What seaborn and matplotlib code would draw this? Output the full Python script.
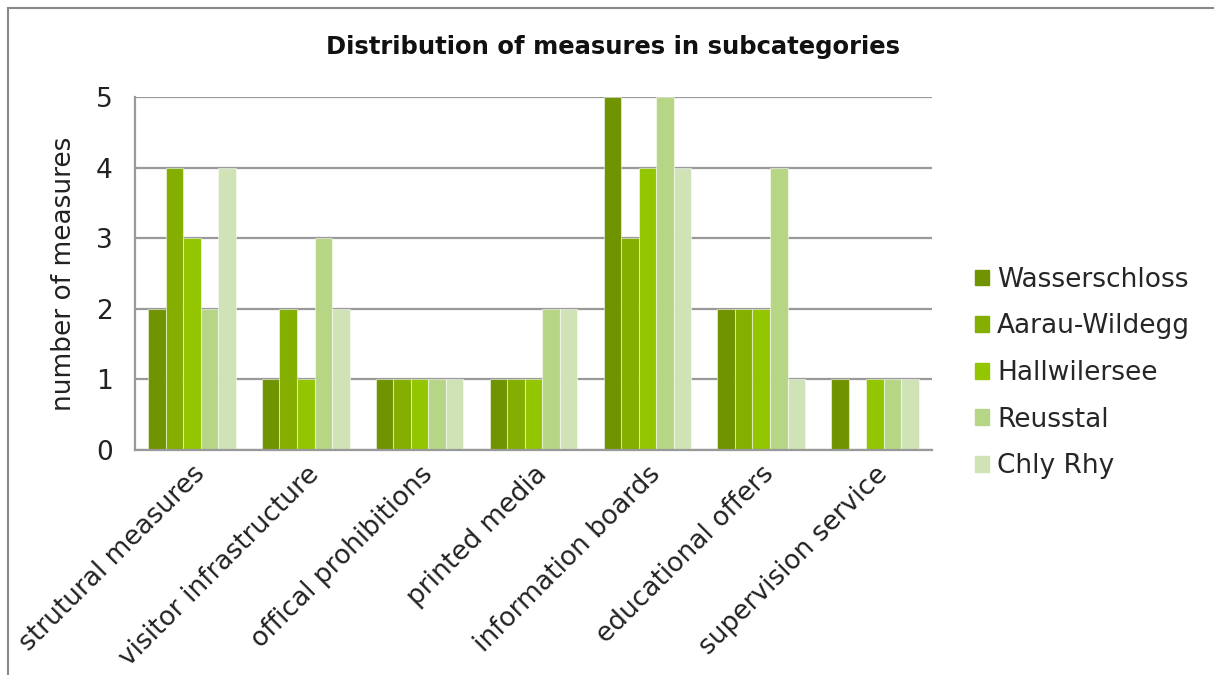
import pandas as pd
import matplotlib.pyplot as plt
import matplotlib.patches as mpatches
import seaborn as sns

categories = ["strutural measures", "visitor infrastructure", "offical prohibitions",
              "printed media", "information boards", "educational offers",
              "supervision service"]
wasserschloss = [2, 1, 1, 1, 5, 2, 1]
aarau_wildegg = [4, 2, 1, 1, 3, 2, 0]
hallwilersee = [3, 1, 1, 1, 4, 2, 1]
reusstal = [2, 3, 1, 2, 5, 4, 1]
chly_rhy = [4, 2, 1, 2, 4, 1, 1]

series = {
    "Wasserschloss": wasserschloss,
    "Aarau-Wildegg": aarau_wildegg,
    "Hallwilersee": hallwilersee,
    "Reusstal": reusstal,
    "Chly Rhy": chly_rhy,
}
colors = ["#709300", "#84AE00", "#93C500", "#B6D686", "#CFE3B6"]

rows = []
for name, vals in series.items():
    for cat, v in zip(categories, vals):
        rows.append({"category": cat, "region": name, "value": v})
df = pd.DataFrame(rows)

sns.set_theme(style="white")
plt.rcParams["font.family"] = ["DejaVu Sans"]

fs = 19

fig = plt.figure(figsize=(12.14, 6.75), dpi=100)
ax = fig.add_axes([135 / 1214, 1 - 450 / 675, (932 - 135) / 1214, (450 - 97) / 675])

sns.barplot(data=df, x="category", y="value", hue="region", palette=colors,
            width=0.77, edgecolor=(1, 1, 1, 0.5), linewidth=0.8,
            saturation=1, ax=ax, legend=False)

ax.set_ylim(0, 5)
ax.set_xlim(-0.5, 6.5)
ax.set_yticks(range(6))
ax.yaxis.grid(True, color="#999999", linewidth=1.6)
ax.set_axisbelow(True)
for s in ["top", "right"]:
    ax.spines[s].set_visible(False)
for s in ["left", "bottom"]:
    ax.spines[s].set_color("#999999")
    ax.spines[s].set_linewidth(1.6)
ax.tick_params(axis="y", labelsize=fs, length=0, pad=16, colors="#222222")
ax.tick_params(axis="x", labelsize=fs, length=0, pad=8, colors="#222222")
ax.set_xticks(range(len(categories)))
ax.set_xticklabels(categories, rotation=45, ha="right", rotation_mode="anchor")
ax.set_xlabel("")
ax.set_ylabel("number of measures", fontsize=fs, color="#222222", labelpad=14)

fig.text(0.505, 1 - 47 / 675, "Distribution of measures in subcategories",
         ha="center", va="center", fontsize=17.5, fontweight="bold", color="#111111")

handles = [mpatches.Patch(color=c, label=n) for n, c in zip(series.keys(), colors)]
fig.legend(handles=handles, loc="center left", bbox_to_anchor=(951 / 1214, 1 - 373 / 675),
           frameon=False, fontsize=fs, handlelength=0.55, handleheight=0.55,
           handletextpad=0.3, labelspacing=0.78)

# outer chart frame
fig.patches.append(mpatches.Rectangle((8 / 1214, -0.1), 1.2, 1 - 8 / 675 + 0.1,
                                      transform=fig.transFigure, fill=False,
                                      edgecolor="#888888", linewidth=1.5))

fig.savefig("out.png", dpi=100)
